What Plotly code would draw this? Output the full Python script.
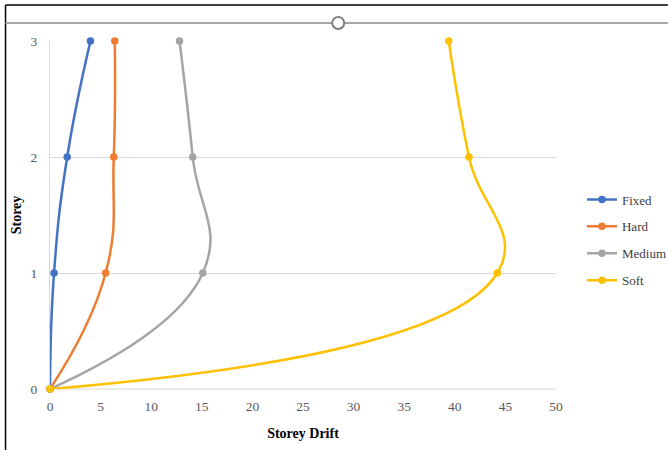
import plotly.graph_objects as go

# Storey levels and drift values for each soil condition
storeys = [0, 1, 2, 3]
drift_fixed = [0, 0.4, 1.7, 4.0]
drift_hard = [0, 5.5, 6.3, 6.4]
drift_medium = [0, 15.1, 14.1, 12.8]
drift_soft = [0, 44.2, 41.4, 39.4]

series = [
    ("Fixed", drift_fixed, "#4472C4"),
    ("Hard", drift_hard, "#ED7D31"),
    ("Medium", drift_medium, "#A5A5A5"),
    ("Soft", drift_soft, "#FFC000"),
]

x_ticks = list(range(0, 51, 5))
y_ticks = [0, 1, 2, 3]

W, H = 668, 450
L, R, T, B = 49.5, 112, 41, 61

fig = go.Figure()
for name, xs, color in series:
    fig.add_trace(go.Scatter(
        x=xs, y=storeys, name=name, legendgroup=name, mode="lines+markers",
        line=dict(color=color, width=2.5, shape="spline", smoothing=1.3),
        marker=dict(color=color, size=7.5),
        cliponaxis=False,
    ))

serif = "Liberation Serif, Times New Roman, serif"

fig.update_layout(
    width=W, height=H,
    margin=dict(l=L, r=R, t=T, b=B, autoexpand=False),
    paper_bgcolor="white", plot_bgcolor="white",
    font=dict(family=serif, size=13, color="#595959"),
    showlegend=True,
    legend=dict(
        x=(582 - L) / (W - L - R), y=(H - B - 240) / (H - T - B),
        xanchor="left", yanchor="middle",
        font=dict(family=serif, size=13, color="#404040"),
        tracegroupgap=7, itemwidth=30,
    ),
    xaxis=dict(
        range=[0, 50], tickvals=x_ticks, ticktext=[str(v) for v in x_ticks],
        showgrid=False, zeroline=False, showline=False, ticks="",
        ticklabelstandoff=7,
        tickfont=dict(family=serif, size=13.5, color="#595959"),
        title=dict(text="<b>Storey Drift</b>", font=dict(family=serif, size=14, color="black"), standoff=15),
    ),
    yaxis=dict(
        range=[0, 3], tickvals=y_ticks, ticktext=[str(v) for v in y_ticks],
        showgrid=True, gridcolor="#D9D9D9", gridwidth=1,
        zeroline=False, showline=True, linecolor="#D9D9D9", linewidth=1, ticks="",
        ticklabelstandoff=9,
        tickfont=dict(family=serif, size=13.5, color="#595959"),
        title=dict(text="<b>Storey</b>", font=dict(family=serif, size=14, color="black"), standoff=5),
    ),
)

# Frame of the chart object and its top selection bar with a rotation handle
fig.add_shape(type="line", xref="paper", yref="paper", x0=0, x1=1, y0=0, y1=0,
              line=dict(color="#D9D9D9", width=1), layer="below")
px = lambda v: (v - L) / (W - L - R)
py = lambda v: (H - B - v) / (H - T - B)
fig.add_shape(type="line", xref="paper", yref="paper", x0=px(5), x1=px(668), y0=py(5), y1=py(5),
              line=dict(color="black", width=1.5))
fig.add_shape(type="line", xref="paper", yref="paper", x0=px(5), x1=px(5), y0=py(5), y1=py(450),
              line=dict(color="black", width=1.5))
fig.add_shape(type="line", xref="paper", yref="paper", x0=px(5), x1=px(668), y0=py(23), y1=py(23),
              line=dict(color="#A6A6A6", width=2))
fig.add_shape(type="circle", xref="paper", yref="paper", x0=px(332), x1=px(344), y0=py(17), y1=py(29),
              line=dict(color="#808080", width=2), fillcolor="white")

fig.write_html("out.html")
